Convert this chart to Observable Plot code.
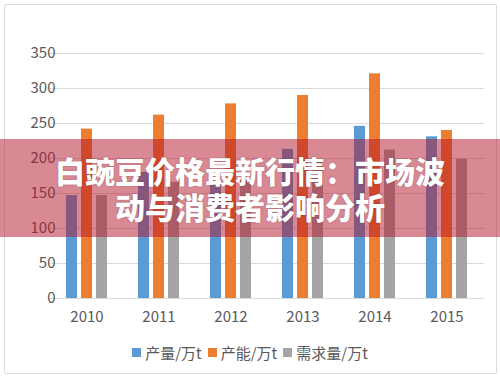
<!DOCTYPE html>
<html><head><meta charset="utf-8">
<script src="https://cdn.jsdelivr.net/npm/d3@7"></script>
<script src="https://cdn.jsdelivr.net/npm/@observablehq/plot@0.6"></script>
<style>
body{margin:0;background:#fff;}
#wrap{position:relative;width:500px;height:377px;overflow:hidden;background:#fff;font-family:"Noto Sans CJK SC","Noto Sans",sans-serif;}
#frame{position:absolute;left:4px;top:4px;width:493px;height:370px;border:1px solid #dcdcdc;box-sizing:border-box;border-radius:2px;}
#grid,#chart{position:absolute;left:0;top:0;}
#legend{position:absolute;left:0;top:341px;width:500px;height:22px;display:flex;justify-content:center;align-items:center;font-size:15px;color:#595959;}
#legend .item{display:flex;align-items:center;margin:0 3px;}
#legend .sw{width:9px;height:9px;margin-right:4px;}
#banner{position:absolute;left:0;top:139px;width:500px;height:98px;background:rgba(180,20,40,0.5);display:flex;flex-direction:column;justify-content:center;align-items:center;color:#fff;font-weight:900;font-size:30px;line-height:36px;text-shadow:0 0 2px rgba(0,0,0,0.25);}
</style>
</head><body>
<div id="wrap">
  <div id="frame"></div>
  <div id="grid"></div>
  <div id="chart"></div>
  <div id="legend"></div>
  <div id="banner"><div>白豌豆价格最新行情：市场波</div><div>动与消费者影响分析</div></div>
</div>
<script>
const years = ["2010","2011","2012","2013","2014","2015"];
const series = ["产量/万t","产能/万t","需求量/万t"];
const production = [147,180,166,213,246,231];
const capacity = [242,262,278,290,321,240];
const demand = [147,166,170,195,212,199];
const colors = ["#5B9BD5","#ED7D31","#A5A5A5"];
const yTicks = [0,50,100,150,200,250,300,350];

const values = [production, capacity, demand];
const rows = years.flatMap((y,i) => series.map((s,j) => ({year:y, series:s, value:values[j][i]})));

const common = {
  width: 500, height: 330,
  marginLeft: 50, marginRight: 16, marginTop: 53, marginBottom: 32,
  style: {fontSize: "15px", color: "#595959", fontFamily: "'Noto Sans CJK SC','Noto Sans',sans-serif", background: "transparent"}
};

const grid = Plot.plot({
  ...common,
  x: {axis: null},
  y: {domain: [0,350], axis: null},
  marks: [Plot.ruleY(yTicks, {stroke: "#d9d9d9", strokeWidth: 1})]
});
document.getElementById("grid").appendChild(grid);

const chart = Plot.plot({
  ...common,
  fx: {domain: years, paddingInner: 0.4, paddingOuter: 0.2, label: null, tickSize: 0, tickPadding: 13, axis: "bottom"},
  x: {domain: series, paddingInner: 0.25, paddingOuter: 0, axis: null},
  y: {domain: [0,350], ticks: yTicks, tickSize: 0, tickPadding: 10, label: null},
  color: {domain: series, range: colors},
  marks: [
    Plot.barY(rows, {fx: "year", x: "series", y: "value", fill: "series"})
  ]
});
document.getElementById("chart").appendChild(chart);

const legend = document.getElementById("legend");
series.forEach((s,i) => {
  const item = document.createElement("div");
  item.className = "item";
  const sw = document.createElement("div");
  sw.className = "sw";
  sw.style.background = colors[i];
  const t = document.createElement("span");
  t.textContent = s;
  item.appendChild(sw); item.appendChild(t);
  legend.appendChild(item);
});
</script>
</body></html>
